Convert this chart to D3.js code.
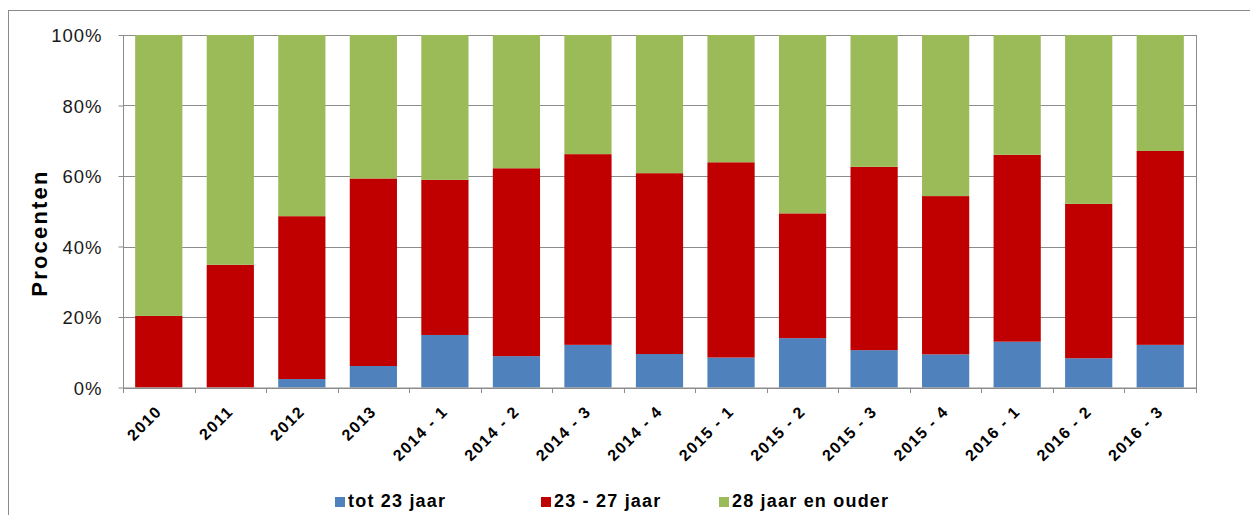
<!DOCTYPE html>
<html>
<head>
<meta charset="utf-8">
<script src="https://cdn.jsdelivr.net/npm/d3@7"></script>
<style>
  html, body { margin: 0; padding: 0; background: #fff; }
  svg { display: block; font-family: "Liberation Sans", Arial, sans-serif; }
</style>
</head>
<body>
<svg id="chart" width="1250" height="515"></svg>
<script>
const categories = ["2010","2011","2012","2013","2014 - 1","2014 - 2","2014 - 3","2014 - 4","2015 - 1","2015 - 2","2015 - 3","2015 - 4","2016 - 1","2016 - 2","2016 - 3"];
const seriesNames = ["tot 23 jaar","23 - 27 jaar","28 jaar en ouder"];
const tot23 = [0, 0, 2.4, 6.1, 14.9, 8.9, 12.1, 9.5, 8.5, 14.0, 10.6, 9.4, 13.0, 8.3, 12.1];
const j23to27 = [20.3, 34.8, 46.2, 53.2, 44.0, 53.3, 54.1, 51.3, 55.4, 35.4, 52.0, 44.9, 53.0, 43.8, 55.0];
const j28plus = [79.7, 65.2, 51.4, 40.7, 41.1, 37.8, 33.8, 39.2, 36.1, 50.6, 37.4, 45.7, 34.0, 47.9, 32.9];
const yTicks = [0, 20, 40, 60, 80, 100];
const colors = ["#4F81BD", "#C00000", "#9BBB59"];

const rows = categories.map((c, i) => ({
  cat: c,
  [seriesNames[0]]: tot23[i],
  [seriesNames[1]]: j23to27[i],
  [seriesNames[2]]: j28plus[i]
}));

const svg = d3.select("#chart");
const plot = { left: 123, right: 1196, top: 35, bottom: 387.5 };

// outer frame
svg.append("rect")
  .attr("x", 8.5).attr("y", 10.5)
  .attr("width", 1300).attr("height", 600)
  .attr("fill", "none").attr("stroke", "#8a8a8a").attr("stroke-width", 1);

const x = d3.scaleBand().domain(categories)
  .range([plot.left, plot.right]).paddingInner(0.34).paddingOuter(0.17);
const y = d3.scaleLinear().domain([0, 100]).range([plot.bottom, plot.top]);

// gridlines
svg.append("g").selectAll("line").data(yTicks).join("line")
  .attr("x1", plot.left).attr("x2", plot.right)
  .attr("y1", d => Math.round(y(d)) + 0.5).attr("y2", d => Math.round(y(d)) + 0.5)
  .attr("stroke", "#8c8c8c").attr("stroke-width", 1);

// right frame of plot
svg.append("line")
  .attr("x1", plot.right + 0.5).attr("x2", plot.right + 0.5)
  .attr("y1", plot.top).attr("y2", plot.bottom + 1)
  .attr("stroke", "#8c8c8c");

// stacked bars
const stack = d3.stack().keys(seriesNames);
const stacked = stack(rows);
svg.append("g").selectAll("g").data(stacked).join("g")
  .attr("fill", (d, i) => colors[i])
  .selectAll("rect").data(d => d).join("rect")
  .attr("x", d => x(d.data.cat))
  .attr("width", x.bandwidth())
  .attr("y", d => y(d[1]))
  .attr("height", d => Math.max(0, y(d[0]) - y(d[1])));

// y axis
const yAxis = d3.axisLeft(y).tickValues(yTicks).tickFormat(d => d + "%").tickSize(5).tickPadding(16);
const gy = svg.append("g").attr("transform", `translate(${plot.left + 0.5},0)`).call(yAxis);
gy.select(".domain").attr("stroke", "#8c8c8c").attr("d", `M0,${plot.top}V${plot.bottom + 1}`);
gy.selectAll(".tick line").attr("stroke", "#8c8c8c");
gy.selectAll(".tick text")
  .attr("fill", "#1a1a1a")
  .style("font-size", "18.5px")
  .style("letter-spacing", "1px")
  .attr("dy", "0.36em");

// x axis
const xb = d3.scaleLinear().domain([0, categories.length]).range([plot.left, plot.right]);
const gx = svg.append("g").attr("transform", `translate(0,${plot.bottom + 0.5})`);
gx.append("line").attr("x1", plot.left).attr("x2", plot.right + 1)
  .attr("stroke", "#8c8c8c");
gx.selectAll("line.tk").data(d3.range(categories.length + 1)).join("line")
  .attr("class", "tk")
  .attr("x1", d => Math.round(xb(d)) + 0.5).attr("x2", d => Math.round(xb(d)) + 0.5)
  .attr("y1", 0).attr("y2", 5).attr("stroke", "#8c8c8c");

svg.append("g").selectAll("text").data(categories).join("text")
  .attr("transform", d => `translate(${x(d) + x.bandwidth() / 2 + 4},${plot.bottom + 25}) rotate(-45)`)
  .attr("text-anchor", "end")
  .attr("fill", "#000")
  .style("font-size", "16px")
  .style("font-weight", "bold")
  .style("letter-spacing", "1.4px")
  .text(d => d);

// y title
svg.append("text")
  .attr("transform", `translate(46.5,233) rotate(-90)`)
  .attr("text-anchor", "middle")
  .attr("fill", "#000")
  .style("font-size", "22px")
  .style("font-weight", "bold")
  .style("letter-spacing", "2.2px")
  .text("Procenten");

// legend
const legendPos = [335, 541, 719];
const lg = svg.append("g").selectAll("g").data(seriesNames).join("g")
  .attr("transform", (d, i) => `translate(${legendPos[i]},0)`);
lg.append("rect").attr("x", 0).attr("y", 497).attr("width", 10).attr("height", 10)
  .attr("fill", (d, i) => colors[i]);
lg.append("text").attr("x", 13).attr("y", 507)
  .attr("fill", "#000")
  .style("font-size", "18px")
  .style("font-weight", "bold")
  .style("letter-spacing", "1.2px")
  .text(d => d);
</script>
</body>
</html>
